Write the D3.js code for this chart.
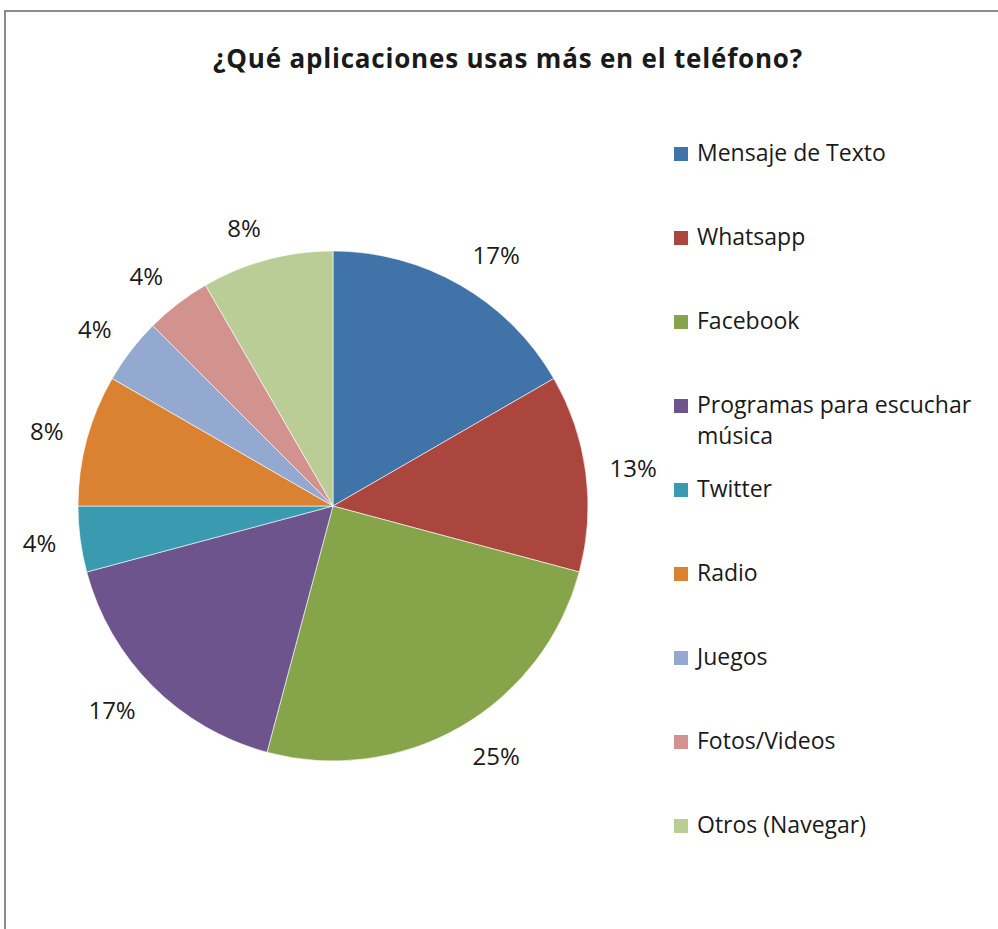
<!DOCTYPE html>
<html>
<head>
<meta charset="utf-8" />
<title>¿Qué aplicaciones usas más en el teléfono?</title>
<script src="https://d3js.org/d3.v7.min.js"></script>
<style>
    body { margin: 0; background: #fff; }
    text { font-family: "Open Sans", "Liberation Sans", sans-serif; fill: #1a1a1a; }
</style>
</head>
<body>
<div id="chart"></div>
<script>
// answers counted per application (24 in total)
var categories = ["Mensaje de Texto", "Whatsapp", "Facebook", "Programas para escuchar música",
    "Twitter", "Radio", "Juegos", "Fotos/Videos", "Otros (Navegar)"];
var counts = [4, 3, 6, 4, 1, 2, 1, 1, 2];
var colors = ["#4073a7", "#aa463e", "#86a44a", "#6e548d", "#3a9ab0", "#db8232",
    "#93a9cf", "#d2928d", "#bacd96"];
var title = "¿Qué aplicaciones usas más en el teléfono?";

var width = 998, height = 929;
var cx = 333, cy = 506, radius = 255;

var svg = d3.select("#chart").append("svg")
    .attr("width", width)
    .attr("height", height);

// outer frame (right and bottom edges run off the picture)
svg.append("rect")
    .attr("x", 5)
    .attr("y", 11)
    .attr("width", 1000)
    .attr("height", 1000)
    .style("fill", "none")
    .style("stroke", "#8c8c8c")
    .style("stroke-width", 2);

svg.append("text")
    .attr("x", 508)
    .attr("y", 68)
    .attr("text-anchor", "middle")
    .style("font-size", "26px")
    .style("font-weight", "bold")
    .style("letter-spacing", "0.8px")
    .text(title);

var data = categories.map(function(c, i) { return {name: c, value: counts[i], color: colors[i]}; });
var total = d3.sum(counts);

var pie = d3.pie()
    .sort(null)
    .value(function(d) { return d.value; });

var arc = d3.arc()
    .innerRadius(0)
    .outerRadius(radius);

var labelR = 279;

var g = svg.append("g")
    .attr("transform", "translate(" + cx + "," + cy + ")");

var arcs = pie(data);

g.selectAll(".slice")
    .data(arcs)
    .enter().append("path")
    .attr("class", "slice")
    .attr("d", arc)
    .style("fill", function(d) { return d.data.color; })
    .style("stroke", "#ffffff")
    .style("stroke-width", 0.6);

function clamp(v) { return Math.max(-1, Math.min(1, v)); }

// labels sit just outside the rim, box pushed away from the pie like Excel does
var fs = 24, capH = 0.72 * fs;
g.selectAll(".valLabel")
    .data(arcs)
    .enter().append("text")
    .attr("class", "valLabel")
    .attr("text-anchor", "middle")
    .style("font-size", fs + "px")
    .text(function(d) { return Math.round(100 * d.data.value / total) + "%"; })
    .each(function(d) {
        var a = (d.startAngle + d.endAngle) / 2;
        var s = Math.sin(a), c = Math.cos(a);
        var w = this.getComputedTextLength();
        var px = labelR * s, py = -labelR * c;
        d3.select(this)
            .attr("x", px + (w / 2) * clamp(s * 4))
            .attr("y", py - (capH / 2) * clamp(c * 1.2) + capH / 2);
    });

// legend
var y = d3.scalePoint()
    .domain(categories)
    .range([154, 826]);

var legend = svg.selectAll(".legend")
    .data(data)
    .enter().append("g")
    .attr("class", "legend")
    .attr("transform", function(d) { return "translate(674," + y(d.name) + ")"; });

legend.append("rect")
    .attr("x", 0)
    .attr("y", -7)
    .attr("width", 14)
    .attr("height", 14)
    .style("fill", function(d) { return d.color; });

legend.append("text")
    .attr("x", 23)
    .style("font-size", "23px")
    .each(function(d) {
        var t = d3.select(this);
        var lines = d.name == "Programas para escuchar música" ? ["Programas para escuchar", "música"] : [d.name];
        lines.forEach(function(l, i) {
            t.append("tspan")
                .attr("x", 23)
                .attr("dy", i == 0 ? "0.3em" : "1.37em")
                .text(l);
        });
    });
</script>
</body>
</html>
